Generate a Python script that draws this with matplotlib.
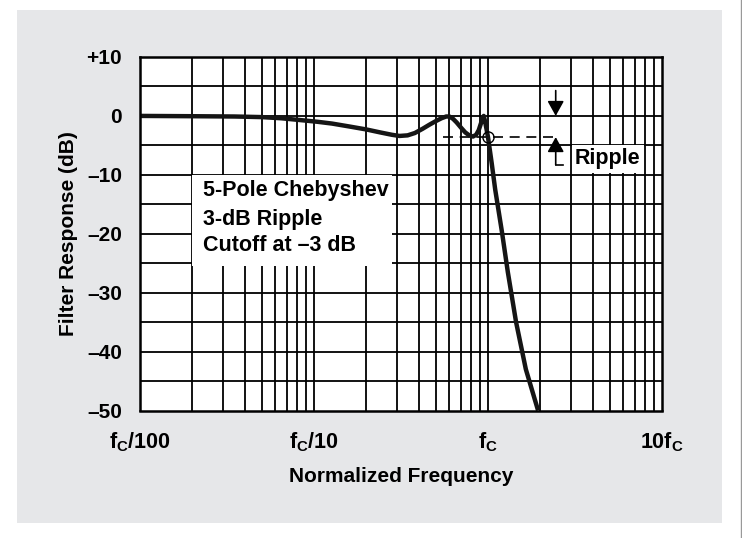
import matplotlib
matplotlib.use("Agg")
import matplotlib.pyplot as plt
from matplotlib.patches import Rectangle
from matplotlib import font_manager
import numpy as np

# ---- data ----
freq = [0.01, 0.02, 0.035, 0.05, 0.065, 0.083, 0.105, 0.127, 0.16, 0.2, 0.24, 0.28,
        0.31, 0.345, 0.38, 0.42, 0.46, 0.5, 0.54, 0.575, 0.6, 0.63, 0.66, 0.7,
        0.74, 0.78, 0.82, 0.855, 0.885, 0.91, 0.93, 0.945, 0.96, 0.98, 1.0,
        1.05, 1.1, 1.2, 1.3, 1.45, 1.65, 1.94]
resp = [0.0, -0.05, -0.1, -0.2, -0.4, -0.7, -1.0, -1.3, -1.8, -2.3, -2.8, -3.2,
        -3.4, -3.3, -2.9, -2.2, -1.5, -0.9, -0.4, -0.1, -0.1, -0.5, -1.1, -2.0,
        -2.8, -3.3, -3.5, -3.2, -2.4, -1.3, -0.4, 0.0, -0.8, -2.2, -3.6,
        -8.0, -12.5, -19.5, -26.5, -35.0, -43.0, -50.0]
cutoff_db = -3.6
y_ticks = [10, 0, -10, -20, -30, -40, -50]
y_tick_labels = ["+10", "0", "\u201310", "\u201320", "\u201330", "\u201340", "\u201350"]
x_ticks = [0.01, 0.1, 1, 10]
x_tick_labels = [r"$\mathrm{f_C}$/100", r"$\mathrm{f_C}$/10", r"$\mathrm{f_C}$", r"10$\mathrm{f_C}$"]
annotation_lines = ["5-Pole Chebyshev", "3-dB Ripple", "Cutoff at \u20133 dB"]

names = {f.name for f in font_manager.fontManager.ttflist}
main = "Liberation Sans Narrow" if "Liberation Sans Narrow" in names else "Liberation Sans"
FONT = [main, "DejaVu Sans"]
plt.rcParams["font.family"] = FONT
plt.rcParams["font.weight"] = "bold"
plt.rcParams["mathtext.fontset"] = "custom"
plt.rcParams["mathtext.rm"] = main + ":bold"
plt.rcParams["mathtext.it"] = main + ":bold"
plt.rcParams["mathtext.bf"] = main + ":bold"

fig = plt.figure(figsize=(7.42, 5.38), dpi=100)
fig.patch.set_facecolor("white")
# grey panel
fig.patches.append(Rectangle((17/742, 1-523/538), (722-17)/742, (523-10)/538,
                             transform=fig.transFigure, facecolor="#e6e7e9",
                             edgecolor="none", zorder=-5))
fig.add_artist(plt.Line2D([741/742, 741/742], [0, 1], transform=fig.transFigure,
                          color="#999999", lw=1.0, zorder=-5))

ax = fig.add_axes([140/742, 1-410.5/538, (662-140)/742, (410.5-57)/538])
ax.set_zorder(2)
ax.set_facecolor("white")
ax.set_xscale("log")
ax.set_xlim(0.01, 10)
ax.set_ylim(-50, 10)

# grid
for dec in [0.01, 0.1, 1]:
    for m in range(2, 10):
        ax.axvline(dec*m, color="black", lw=1.3, zorder=1)
for v in [0.1, 1]:
    ax.axvline(v, color="black", lw=1.3, zorder=1)
for yv in np.arange(-45, 10, 5):
    ax.axhline(yv, color="black", lw=1.3, zorder=1)

ax.set_yticks(y_ticks)
ax.set_yticklabels(y_tick_labels, fontsize=15, fontweight="bold")
ax.set_xticks(x_ticks)
ax.set_xticklabels(x_tick_labels, fontsize=15.5, fontweight="bold")
ax.xaxis.set_minor_locator(matplotlib.ticker.NullLocator())
ax.tick_params(axis="both", length=0)
ax.tick_params(axis="y", pad=13)
ax.tick_params(axis="x", pad=14)
for s in ax.spines.values():
    s.set_linewidth(1.8)
    s.set_color("black")
    s.set_zorder(5)

ax.set_ylabel("Filter Response (dB)", fontsize=15, fontweight="bold", labelpad=6)
ax.set_xlabel("Normalized Frequency", fontsize=15, fontweight="bold", labelpad=10)

# annotation box
ax.add_patch(Rectangle((0.02, -25.5), 0.28-0.02, 15.5, facecolor="white",
                       edgecolor="none", zorder=2))
for txt, yv in zip(annotation_lines, [-12.7, -17.6, -22.0]):
    ax.text(0.023, yv, txt, fontsize=15.5, fontweight="bold", va="center", ha="left", zorder=3)

# curve
ax.plot(freq, resp, color="#151515", lw=3.2, solid_joinstyle="round",
        solid_capstyle="butt", zorder=4)
ax.plot([1.0], [cutoff_db], marker="o", ms=8, mfc="none", mec="black", mew=1.0, zorder=6)

# ripple markers
ax.plot([0.55, 2.54], [cutoff_db, cutoff_db], color="black", lw=1.2,
        dashes=(6, 4), zorder=3)
xa = 2.45
arrow_style = "-|>,head_width=0.5,head_length=0.9"
ax.annotate("", xy=(xa, 0), xytext=(xa, 4.3),
            arrowprops=dict(arrowstyle=arrow_style,
                            color="black", lw=1.2, shrinkA=0, shrinkB=0), zorder=6)
ax.annotate("", xy=(xa, cutoff_db), xytext=(xa, -8.3),
            arrowprops=dict(arrowstyle=arrow_style,
                            color="black", lw=1.2, shrinkA=0, shrinkB=0), zorder=6)
ax.plot([xa, 2.69], [-8.3, -8.3], color="black", lw=1.2, zorder=6)
ax.text(3.16, -7.3, "Ripple", fontsize=15.5, fontweight="bold", va="center", ha="left",
        zorder=6, bbox=dict(facecolor="white", edgecolor="none", pad=2.5))

fig.savefig("out.png", dpi=100, facecolor=fig.get_facecolor())
